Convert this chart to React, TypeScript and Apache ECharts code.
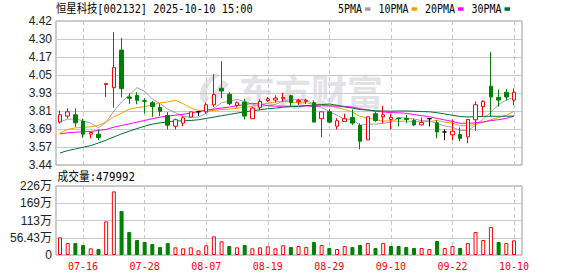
import React, { useEffect, useRef } from "react";
import * as echarts from "echarts";

const titleText = "恒星科技[002132] 2025-10-10 15:00";
const volumeTitle = "成交量:479992";
const watermarkText = "东方财富";

const dates = [
  "07-11", "07-14", "07-15", "07-16", "07-17", "07-18", "07-21", "07-22", "07-23", "07-24",
  "07-25", "07-28", "07-29", "07-30", "07-31", "08-01", "08-04", "08-05", "08-06", "08-07",
  "08-08", "08-11", "08-12", "08-13", "08-14", "08-15", "08-18", "08-19", "08-20", "08-21",
  "08-22", "08-25", "08-26", "08-27", "08-28", "08-29", "09-01", "09-02", "09-03", "09-04",
  "09-05", "09-08", "09-09", "09-10", "09-11", "09-12", "09-15", "09-16", "09-17", "09-18",
  "09-19", "09-22", "09-23", "09-24", "09-25", "09-26", "09-29", "09-30", "10-09", "10-10",
];

const opens = [
  3.732, 3.773, 3.782, 3.736, 3.65, 3.65, 3.987, 3.966, 4.222, 3.903,
  3.914, 3.878, 3.864, 3.832, 3.777, 3.704, 3.725, 3.766, 3.802, 3.802,
  3.85, 3.962, 3.921, 3.846, 3.868, 3.755, 3.83, 3.878, 3.882, 3.891,
  3.912, 3.871, 3.873, 3.864, 3.755, 3.802, 3.704, 3.736, 3.764, 3.709,
  3.611, 3.789, 3.768, 3.75, 3.759, 3.757, 3.743, 3.713, 3.755, 3.727,
  3.665, 3.645, 3.647, 3.631, 3.748, 3.837, 3.976, 3.9, 3.935, 3.882,
];
const closes = [
  3.782, 3.802, 3.727, 3.65, 3.661, 3.627, 3.994, 4.103, 3.96, 3.894,
  3.88, 3.874, 3.837, 3.805, 3.711, 3.748, 3.761, 3.802, 3.802, 3.85,
  3.919, 3.944, 3.857, 3.864, 3.773, 3.827, 3.873, 3.89, 3.895, 3.9,
  3.864, 3.878, 3.88, 3.732, 3.802, 3.732, 3.741, 3.755, 3.725, 3.602,
  3.768, 3.743, 3.782, 3.764, 3.755, 3.75, 3.713, 3.729, 3.755, 3.665,
  3.665, 3.67, 3.622, 3.75, 3.85, 3.873, 3.903, 3.882, 3.903, 3.935,
];
const lows = [
  3.723, 3.757, 3.7, 3.625, 3.622, 3.609, 3.903, 3.83, 3.9, 3.855,
  3.853, 3.791, 3.768, 3.773, 3.682, 3.682, 3.704, 3.764, 3.773, 3.789,
  3.834, 3.896, 3.846, 3.83, 3.75, 3.755, 3.812, 3.871, 3.864, 3.868,
  3.837, 3.85, 3.855, 3.732, 3.629, 3.723, 3.682, 3.736, 3.713, 3.547,
  3.611, 3.734, 3.723, 3.684, 3.702, 3.725, 3.704, 3.709, 3.702, 3.622,
  3.609, 3.609, 3.602, 3.588, 3.672, 3.77, 3.77, 3.837, 3.88, 3.846,
];
const highs = [
  3.81, 3.825, 3.825, 3.755, 3.662, 3.682, 3.994, 4.345, 4.304, 3.928,
  3.935, 3.893, 3.875, 3.857, 3.8, 3.755, 3.773, 3.803, 3.802, 3.866,
  4.058, 4.146, 3.935, 3.873, 3.891, 3.836, 3.887, 3.903, 3.914, 3.932,
  3.919, 3.891, 3.891, 3.88, 3.802, 3.818, 3.759, 3.789, 3.818, 3.723,
  3.768, 3.802, 3.843, 3.789, 3.764, 3.78, 3.755, 3.764, 3.759, 3.745,
  3.684, 3.75, 3.695, 3.75, 3.873, 3.88, 4.208, 3.955, 3.955, 3.962,
];
const volumes = [
  578000, 393000, 393000, 327000, 218000, 196000, 1100000, 2080000, 1440000, 750000,
  490000, 425000, 360000, 260000, 390000, 250000, 218000, 250000, 153000, 316000,
  610000, 447000, 294000, 250000, 327000, 218000, 250000, 283000, 218000, 316000,
  260000, 294000, 260000, 425000, 327000, 229000, 196000, 294000, 260000, 327000,
  393000, 229000, 393000, 294000, 294000, 260000, 229000, 229000, 196000, 458000,
  229000, 294000, 229000, 393000, 750000, 490000, 916000, 425000, 393000, 479992,
];

// moving-average values before each window is complete
const ma5Head = [3.734, 3.752, 3.752, 3.741];
const ma10Head = [3.659, 3.682, 3.693, 3.695, 3.7, 3.709, 3.733, 3.768, 3.793];
const ma20Head = [
  3.652, 3.659, 3.663, 3.666, 3.668, 3.675, 3.682, 3.698, 3.709, 3.72,
  3.732, 3.743, 3.755, 3.766, 3.773, 3.779, 3.785, 3.794, 3.803,
];
const ma30Head = [
  3.522, 3.538, 3.549, 3.561, 3.572, 3.59, 3.609, 3.631, 3.652, 3.67,
  3.688, 3.704, 3.718, 3.727, 3.734, 3.739, 3.741, 3.743, 3.748, 3.757,
  3.766, 3.775, 3.784, 3.793, 3.802, 3.809, 3.816, 3.823, 3.827,
];

const priceTicks = ["3.44", "3.57", "3.69", "3.81", "3.93", "4.05", "4.17", "4.30", "4.42"];
const volumeTicks = ["0", "56.43万", "113万", "169万", "226万"];
const maNames = ["5PMA", "10PMA", "20PMA", "30PMA"];
const maPeriods = [5, 10, 20, 30];
const maHeads = [ma5Head, ma10Head, ma20Head, ma30Head];
const maColors = ["#a0a0a0", "#f0a000", "#ff00ff", "#006f35"];

const PRICE_MIN = 3.44;
const PRICE_MAX = 4.42;
const VOL_MAX = 2257200;

const UP = "#ff0000";
const DOWN = "#008000";
const MONO = "'DejaVu Sans Mono', 'Noto Sans CJK SC', monospace";

function movingAverage(period: number, head: number[]) {
  return closes.map((_, i) => {
    if (i < period - 1) return head[i];
    let s = 0;
    for (let k = i - period + 1; k <= i; k++) s += closes[k];
    return +(s / period).toFixed(4);
  });
}

const LOGO_D =
  "M20 0 C9 5 2 14 3 24 C4 30 10 33 16 31 L13 26 C9 24 9 17 13 11 C15 8 18 5 22 3 Z M26 7 L32 11 L15 33 L9 30 Z";

export default function App() {
  const ref = useRef<HTMLDivElement>(null);
  useEffect(() => {
    if (!ref.current) return;
    try {
      echarts.graphic.registerShape("logo", echarts.graphic.extendPath(LOGO_D, {}));
    } catch (e) {}
    const chart = echarts.init(ref.current, null, { renderer: "svg" });
    const labelInterval = (index: number) => index % 8 === 3;
    const dashed = { show: true, interval: labelInterval, lineStyle: { color: "#c8c8c8", type: [4, 3] as any, width: 1 } };

    const candleData = dates.map((_, i) => [opens[i], closes[i], lows[i], highs[i]]);
    const volData = volumes.map((v, i) => {
      const prev = i === 0 ? opens[0] : closes[i - 1];
      const up = closes[i] >= prev;
      return {
        value: v,
        itemStyle: up
          ? { color: "#ffffff", borderColor: UP, borderWidth: 1 }
          : { color: DOWN, borderColor: DOWN, borderWidth: 1 },
      };
    });

    const legendGraphics: any[] = [];
    let lx = 338;
    maNames.forEach((name, k) => {
      const tw = name.length * 6;
      legendGraphics.push({
        type: "text",
        x: lx,
        y: 9,
        scaleX: 0.83,
        style: { text: name, font: `12px ${MONO}`, fill: "#000", textVerticalAlign: "middle", verticalAlign: "middle" },
      });
      legendGraphics.push({
        type: "rect",
        shape: { x: lx + tw + 3, y: 7.3, width: 5.5, height: 3.5 },
        style: { fill: maColors[k] },
      });
      lx += tw + 16.5;
    });

    const option: any = {
      animation: false,
      backgroundColor: "#ffffff",
      grid: [
        { left: 56, top: 21, width: 466, height: 144, show: true, borderColor: "#999999", borderWidth: 1, backgroundColor: "transparent" },
        { left: 60, top: 21, width: 454, height: 144 },
        { left: 56, top: 186, width: 466, height: 69, show: true, borderColor: "#999999", borderWidth: 1, backgroundColor: "transparent" },
        { left: 60, top: 186, width: 454, height: 69 },
      ],
      xAxis: [
        { gridIndex: 0, type: "value", show: false, min: 0, max: 1 },
        {
          gridIndex: 1, type: "category", data: dates, boundaryGap: false,
          axisLine: { show: false }, axisTick: { show: false }, axisLabel: { show: false },
          splitLine: dashed,
        },
        { gridIndex: 2, type: "value", show: false, min: 0, max: 1 },
        {
          gridIndex: 3, type: "category", data: dates, boundaryGap: false,
          axisLine: { show: false }, axisTick: { show: false },
          axisLabel: { interval: labelInterval, color: "#ff0000", fontFamily: MONO, fontSize: 10, margin: 6 },
          splitLine: dashed,
        },
      ],
      yAxis: [
        {
          gridIndex: 0, type: "category", data: priceTicks, boundaryGap: false,
          axisLine: { show: false }, axisTick: { show: false },
          axisLabel: { interval: 0, color: "#222", fontFamily: "'Liberation Sans', Arial, sans-serif", fontSize: 12, margin: 4 },
          splitLine: { show: true, interval: 0, lineStyle: { color: "#c8c8c8", width: 1 } },
        },
        { gridIndex: 1, type: "value", min: PRICE_MIN, max: PRICE_MAX, show: false, splitLine: { show: false } },
        {
          gridIndex: 2, type: "category", data: volumeTicks, boundaryGap: false,
          axisLine: { show: false }, axisTick: { show: false },
          axisLabel: { interval: 0, color: "#222", fontFamily: "'Liberation Sans', 'Noto Sans CJK SC', sans-serif", fontSize: 12, margin: 4 },
          splitLine: { show: true, interval: 0, lineStyle: { color: "#c8c8c8", width: 1 } },
        },
        { gridIndex: 3, type: "value", min: 0, max: VOL_MAX, show: false, splitLine: { show: false } },
      ],
      series: [
        ...maNames.map((name, k) => ({
          name,
          type: "line",
          xAxisIndex: 1,
          yAxisIndex: 1,
          data: movingAverage(maPeriods[k], maHeads[k]),
          showSymbol: false,
          symbol: "none",
          lineStyle: { width: 1, color: maColors[k] },
          z: 2,
        })),
        {
          name: "K",
          type: "candlestick",
          xAxisIndex: 1,
          yAxisIndex: 1,
          data: candleData,
          barWidth: 4,
          clip: false,
          itemStyle: {
            color: "#ffffff",
            color0: DOWN,
            borderColor: UP,
            borderColor0: DOWN,
            borderColorDoji: "#000000",
            borderWidth: 1,
          },
          z: 3,
        },
        {
          name: "VOL",
          type: "bar",
          xAxisIndex: 3,
          yAxisIndex: 3,
          data: volData,
          barWidth: 4,
          clip: false,
          z: 3,
        },
      ],
      graphic: [
        {
          type: "logo",
          x: 197,
          y: 73,
          z: -10,
          style: { fill: "#e3e3e7" },
        },
        {
          type: "text",
          x: 239,
          y: 89.5,
          z: -10,
          style: {
            text: watermarkText,
            font: "bold 36px 'Noto Sans CJK SC', sans-serif",
            fill: "#e3e3e7",
            textVerticalAlign: "middle",
            verticalAlign: "middle",
          },
        },
        {
          type: "text",
          x: 56,
          y: 9.5,
          scaleX: 0.862,
          style: { text: titleText, font: `12px ${MONO}`, fill: "#000", textVerticalAlign: "middle", verticalAlign: "middle" },
        },
        {
          type: "text",
          x: 57.5,
          y: 176.5,
          scaleX: 0.894,
          style: { text: volumeTitle, font: `12px ${MONO}`, fill: "#000", textVerticalAlign: "middle", verticalAlign: "middle" },
        },
        ...legendGraphics,
      ],
    };
    chart.setOption(option);
    return () => chart.dispose();
  }, []);
  return (
    <div
      ref={ref}
      style={{ position: "fixed", left: 0, top: 0, width: 578, height: 276, background: "#ffffff" }}
    />
  );
}
